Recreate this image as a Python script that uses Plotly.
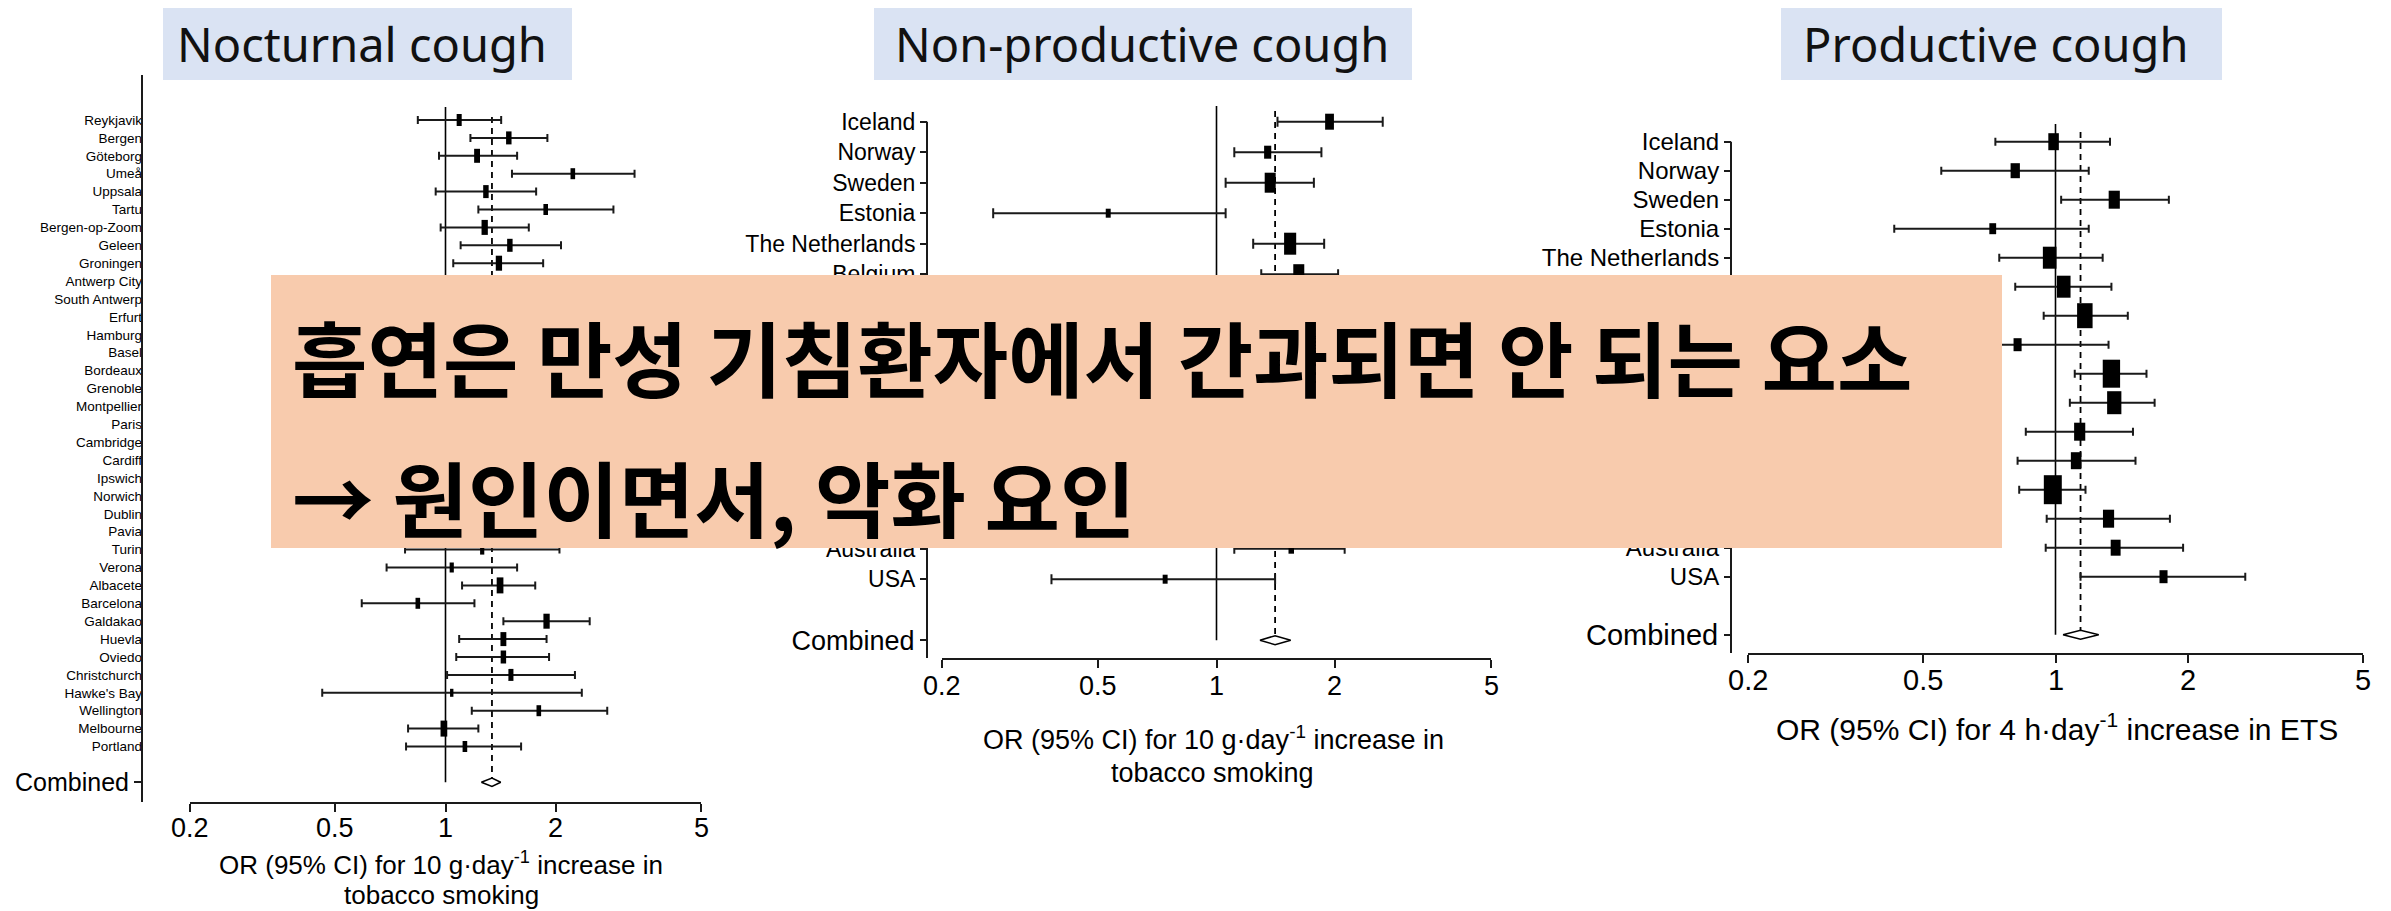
import math
import plotly.graph_objects as go

# ---------------- data ----------------
nocturnal_sites = ["Reykjavik", "Bergen", "Göteborg", "Umeå", "Uppsala", "Tartu", "Bergen-op-Zoom",
                   "Geleen", "Groningen", "Antwerp City", "South Antwerp", "Erfurt", "Hamburg", "Basel",
                   "Bordeaux", "Grenoble", "Montpellier", "Paris", "Cambridge", "Cardiff", "Ipswich",
                   "Norwich", "Dublin", "Pavia", "Turin", "Verona", "Albacete", "Barcelona", "Galdakao",
                   "Huevla", "Oviedo", "Christchurch", "Hawke's Bay", "Wellington", "Melbourne", "Portland"]
nocturnal_or = [1.09, 1.49, 1.22, 2.23, 1.29, 1.88, 1.28, 1.50, 1.40, 1.20, 1.45, 1.25, 1.35, 1.15,
                1.40, 1.55, 1.30, 1.25, 1.45, 1.30, 1.60, 1.20, 1.50, 1.10, 1.26, 1.04, 1.41, 0.84,
                1.89, 1.44, 1.44, 1.51, 1.04, 1.80, 0.99, 1.13]
nocturnal_lo = [0.84, 1.17, 0.96, 1.52, 0.94, 1.23, 0.97, 1.10, 1.05, 0.85, 1.05, 0.80, 1.00, 0.80,
                1.05, 1.10, 0.90, 0.95, 1.05, 0.95, 1.10, 0.85, 1.15, 0.65, 0.775, 0.69, 1.11, 0.59,
                1.44, 1.09, 1.07, 1.01, 0.46, 1.18, 0.79, 0.78]
nocturnal_hi = [1.42, 1.90, 1.57, 3.29, 1.77, 2.88, 1.69, 2.07, 1.85, 1.70, 2.00, 1.95, 1.80, 1.65,
                1.85, 2.20, 1.85, 1.65, 2.00, 1.80, 2.30, 1.70, 1.95, 1.85, 2.05, 1.57, 1.76, 1.20,
                2.48, 1.89, 1.92, 2.26, 2.36, 2.77, 1.23, 1.61]
nocturnal_weight = [1.2, 1.3, 1.4, 1.1, 1.3, 1.1, 1.5, 1.3, 1.5, 1.2, 1.2, 1.1, 1.3, 1.2,
                    1.3, 1.2, 1.2, 1.4, 1.3, 1.2, 1.1, 1.2, 1.3, 1.0, 1.0, 1.0, 1.6, 1.1,
                    1.5, 1.4, 1.3, 1.2, 0.8, 1.1, 1.6, 1.1]
nocturnal_combined = [1.34, 1.253, 1.416]   # estimate, lower, upper

countries = ["Iceland", "Norway", "Sweden", "Estonia", "The Netherlands", "Belgium", "Germany",
             "Switzerland", "France", "UK", "Ireland", "Italy", "Spain", "New Zealand", "Australia", "USA"]

nonprod_or = [1.94, 1.35, 1.37, 0.53, 1.54, 1.62, 1.45, 1.30, 1.50, 1.38, 1.60, 1.42, 1.35, 1.55, 1.55, 0.74]
nonprod_lo = [1.43, 1.11, 1.055, 0.27, 1.24, 1.30, 1.15, 1.00, 1.25, 1.15, 1.15, 1.10, 1.12, 1.10, 1.11, 0.38]
nonprod_hi = [2.65, 1.85, 1.77, 1.055, 1.88, 2.04, 1.83, 1.70, 1.80, 1.65, 2.25, 1.85, 1.62, 2.20, 2.12, 1.41]
nonprod_weight = [1.6, 1.3, 2.0, 0.9, 2.2, 2.0, 1.6, 1.2, 2.2, 2.0, 1.2, 1.4, 2.2, 1.2, 1.0, 0.9]
nonprod_combined = [1.41, 1.29, 1.545]

prod_or = [0.99, 0.81, 1.36, 0.72, 0.97, 1.044, 1.166, 0.82, 1.34, 1.36, 1.135, 1.114, 0.986, 1.32, 1.37, 1.76]
prod_lo = [0.73, 0.55, 1.03, 0.43, 0.745, 0.81, 0.94, 0.52, 1.106, 1.078, 0.856, 0.82, 0.827, 0.955, 0.95, 1.14]
prod_hi = [1.33, 1.19, 1.81, 1.19, 1.28, 1.34, 1.46, 1.32, 1.61, 1.68, 1.50, 1.52, 1.17, 1.82, 1.95, 2.70]
prod_weight = [1.7, 1.5, 1.8, 1.1, 2.2, 2.2, 2.5, 1.3, 2.8, 2.3, 1.8, 1.7, 2.9, 1.8, 1.6, 1.3]
prod_combined = [1.14, 1.04, 1.254]

tick_vals = [0.2, 0.5, 1, 2, 5]
tick_text = ["0.2", "0.5", "1", "2", "5"]

titles = ["Nocturnal cough", "Non-productive cough", "Productive cough"]
xtitles = [["OR (95% CI) for 10 g·day<sup>-1</sup> increase in", "tobacco smoking"],
           ["OR (95% CI) for 10 g·day<sup>-1</sup> increase in", "tobacco smoking"],
           ["OR (95% CI) for 4 h·day<sup>-1</sup> increase in ETS"]]
overlay_lines = ["흡연은 만성 기침환자에서 간과되면 안 되는 요소", "→ 원인이면서, 악화 요인"]

# ---------------- layout helpers ----------------
W, H = 2391, 911
def fx(p): return p / W
def fy(p): return 1 - p / H

FONT = "Liberation Sans, Arial, sans-serif"
INK = "#1a1a1a"

panels = [
    dict(labels=nocturnal_sites, est=nocturnal_or, lo=nocturnal_lo, hi=nocturnal_hi, w=nocturnal_weight,
         comb=nocturnal_combined, xdom=(190, 701), ydom=(75, 802), yax=142, row0=120, step=17.9,
         axline_top=75, lab_size=13.5, lab_ticks=False, comb_size=25, tick_size=27, tick_y=828,
         hscale=10, aspect=0.42, cap=4, ref_top=107, dash_top=117, dia_h=4.2,
         title_box=(163, 572), title_x=362,
         xt=[(441, 863, 26), (441, 895, 26)]),
    dict(labels=countries, est=nonprod_or, lo=nonprod_lo, hi=nonprod_hi, w=nonprod_weight,
         comb=nonprod_combined, xdom=(942, 1491), ydom=(106, 658), yax=927, row0=121.7, step=30.5,
         axline_top=121.7, lab_size=23, lab_ticks=True, comb_size=27, tick_size=27, tick_y=686,
         hscale=10, aspect=0.55, cap=5, ref_top=106, dash_top=111, dia_h=4.5,
         title_box=(874, 1412), title_x=1142,
         xt=[(1213, 738, 27), (1212, 773, 27)]),
    dict(labels=countries, est=prod_or, lo=prod_lo, hi=prod_hi, w=prod_weight,
         comb=prod_combined, xdom=(1748, 2363), ydom=(124, 653), yax=1731, row0=141.7, step=29.0,
         axline_top=141.7, lab_size=24, lab_ticks=True, comb_size=29, tick_size=29, tick_y=680,
         hscale=10, aspect=0.62, cap=4, ref_top=124, dash_top=132, dia_h=4.5,
         title_box=(1781, 2222), title_x=1996,
         xt=[(2057, 727, 30)]),
]

fig = go.Figure()
layout = dict(width=W, height=H, margin=dict(l=0, r=0, t=0, b=0, autoexpand=False),
              paper_bgcolor="white", plot_bgcolor="white", showlegend=False,
              font=dict(family=FONT, color=INK))
shapes, annotations = [], []

for i, p in enumerate(panels):
    k = i + 1
    xa = "x" if k == 1 else f"x{k}"
    ya = "y" if k == 1 else f"y{k}"
    yc = f"y{k + 3}"
    n = len(p["labels"])
    ci = n + 1  # combined row index (one blank row)
    yvals = list(range(n))
    to_idx = lambda py: (py - p["row0"]) / p["step"]
    yrange = [to_idx(p["ydom"][1]), to_idx(p["ydom"][0])]

    # reference line at OR = 1
    fig.add_trace(go.Scatter(x=[1, 1], y=[to_idx(p["ref_top"]), ci], mode="lines",
                             line=dict(color="black", width=1.6), xaxis=xa, yaxis=ya, hoverinfo="skip"))
    # dashed line at combined estimate
    fig.add_trace(go.Scatter(x=[p["comb"][0]] * 2, y=[to_idx(p["dash_top"]), ci - p["dia_h"] / p["step"]],
                             mode="lines", line=dict(color="black", width=1.8, dash="6px,5px"),
                             xaxis=xa, yaxis=ya, hoverinfo="skip"))
    # study estimates with CI
    hpx = [wt * p["hscale"] for wt in p["w"]]
    fig.add_trace(go.Scatter(
        x=p["est"], y=yvals, mode="markers", xaxis=xa, yaxis=ya,
        error_x=dict(type="data", symmetric=False,
                     array=[h - e for h, e in zip(p["hi"], p["est"])],
                     arrayminus=[e - l for e, l in zip(p["est"], p["lo"])],
                     color=INK, thickness=2, width=p["cap"]),
        marker=dict(symbol="line-ns", color="black", opacity=1, size=[h / 1.4 for h in hpx],
                    line=dict(color="black", width=[h * p["aspect"] for h in hpx])),
        hoverinfo="skip"))
    # combined diamond
    c, cl, chh = p["comb"]
    dh = p["dia_h"] / p["step"]
    fig.add_trace(go.Scatter(x=[cl, c, chh, c, cl], y=[ci, ci - dh, ci, ci + dh, ci], mode="lines",
                             fill="toself", fillcolor="white", line=dict(color="black", width=1.5),
                             xaxis=xa, yaxis=yc, hoverinfo="skip"))

    layout["xaxis" if k == 1 else f"xaxis{k}"] = dict(
        domain=[fx(p["xdom"][0]), fx(p["xdom"][1])], anchor=ya, type="log", automargin=False,
        range=[math.log10(0.2), math.log10(5)], tickvals=tick_vals, showticklabels=False,
        ticks="outside", ticklen=8, tickwidth=2, tickcolor=INK, showline=True, linewidth=2, linecolor=INK,
        showgrid=False, zeroline=False)
    # x tick labels placed at the axis' own log positions
    for v, t in zip(tick_vals, tick_text):
        annotations.append(dict(xref=xa, yref="paper", x=math.log10(v), y=fy(p["tick_y"]), text=t,
                                showarrow=False, xanchor="center", yanchor="middle",
                                font=dict(family=FONT, size=p["tick_size"], color="black")))
    layout["yaxis" if k == 1 else f"yaxis{k}"] = dict(
        domain=[fy(p["ydom"][1]), fy(p["ydom"][0])], anchor="free", position=fx(p["yax"]),
        automargin=False, range=yrange, tickvals=yvals, ticktext=p["labels"],
        ticks="outside" if p["lab_ticks"] else "", ticklen=7, tickwidth=1.5, tickcolor=INK,
        showline=False, showgrid=False, zeroline=False,
        tickfont=dict(size=p["lab_size"], family=FONT, color="black"))
    layout[f"yaxis{k + 3}"] = dict(
        overlaying=ya, anchor="free", position=fx(p["yax"]), range=yrange, automargin=False,
        tickvals=[ci], ticktext=["Combined"], ticks="outside", ticklen=8 if k == 1 else 7,
        tickwidth=1.5, tickcolor=INK, showline=False, showgrid=False, zeroline=False,
        tickfont=dict(size=p["comb_size"], family=FONT, color="black"))

    # y axis line
    shapes.append(dict(type="line", xref="paper", yref="paper", x0=fx(p["yax"]), x1=fx(p["yax"]),
                       y0=fy(p["axline_top"]), y1=fy(p["ydom"][1]), line=dict(color=INK, width=2)))
    # title box
    shapes.append(dict(type="rect", xref="paper", yref="paper", x0=fx(p["title_box"][0]),
                       x1=fx(p["title_box"][1]), y0=fy(80), y1=fy(8), fillcolor="#DAE3F3",
                       line=dict(width=0), layer="below"))
    annotations.append(dict(xref="paper", yref="paper", x=fx(p["title_x"]), y=fy(44), text=titles[i],
                            showarrow=False, xanchor="center", yanchor="middle",
                            font=dict(family="Noto Sans, Open Sans, sans-serif", size=47, color="#111")))
    for (tx, ty, ts), line_text in zip(p["xt"], xtitles[i]):
        annotations.append(dict(xref="paper", yref="paper", x=fx(tx), y=fy(ty), text=line_text,
                                showarrow=False, xanchor="center", yanchor="middle",
                                font=dict(family=FONT, size=ts, color="black")))

# overlay callout box
shapes.append(dict(type="rect", xref="paper", yref="paper", x0=fx(271), x1=fx(2002), y0=fy(548), y1=fy(275),
                   fillcolor="#F8CBAD", line=dict(width=0), layer="above"))
for txt, ty in zip(overlay_lines, [356, 496]):
    annotations.append(dict(xref="paper", yref="paper", x=fx(290), y=fy(ty), text="<b>" + txt + "</b>",
                            showarrow=False, xanchor="left", yanchor="middle",
                            font=dict(family="Noto Sans CJK KR, sans-serif", size=82, color="black")))

layout["shapes"] = shapes
layout["annotations"] = annotations
fig.update_layout(**layout)
fig.write_html("out.html", config={"displayModeBar": False},
               post_script="document.body.style.margin='0px';")
